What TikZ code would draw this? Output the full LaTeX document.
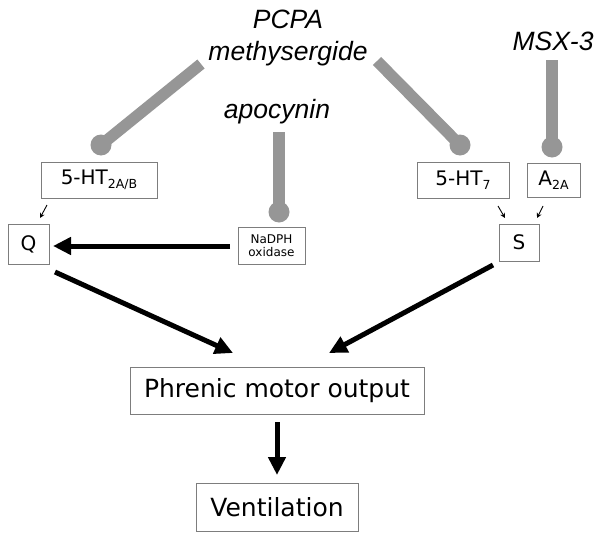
\documentclass[tikz,border=0pt]{standalone}
\usepackage{fontspec}
\setmainfont{DejaVu Sans}
\newfontfamily\drugfont{Liberation Sans}
\usetikzlibrary{arrows.meta,calc}
\definecolor{inhgray}{RGB}{150,150,150}
\definecolor{boxgray}{RGB}{125,125,125}
\newcommand{\sbx}[1]{\raisebox{-0.2em}{\fontsize{12.5}{12.5}\selectfont #1}}
\begin{document}
\begin{tikzpicture}[x=1pt,y=-1pt,
  box/.style={draw=boxgray,line width=1pt,inner sep=0pt,align=center,text=black},
  drug/.style={font=\drugfont\itshape\fontsize{26.5}{28}\selectfont,anchor=base,inner sep=0pt},
  inh/.style={draw=inhgray,line width=11.5pt},
  inhdot/.style={fill=inhgray},
  bigarrow/.style={line width=5pt,-{Triangle[length=18pt,width=17pt]}},
  smallarrow/.style={line width=0.9pt,-{Stealth[length=5pt,width=5pt]}},
  mid/.style={font=\fontsize{20}{22}\selectfont}]
\fill[white] (0,0) rectangle (600,538);
\useasboundingbox (0,0) rectangle (600,538);

% drug names
\node[drug] (pcpa) at (288,28) {PCPA};
\node[drug] (methy) at (288,60) {methysergide};
\node[drug] (msx) at (553,50) {MSX-3};
\node[drug] (apo) at (277,118) {apocynin};

% boxes
\node[box,mid,minimum width=116pt,minimum height=36pt] (ht2) at (99,180) {5-HT\sbx{2A/B}};
\node[box,mid,minimum width=41pt,minimum height=40pt] (Q) at (28.5,244) {Q};
\node[box,minimum width=67pt,minimum height=37pt,font=\fontsize{12}{13.5}\selectfont] (nadph) at (271.5,245.5) {NaDPH\\oxidase};
\node[box,mid,minimum width=92pt,minimum height=36pt] (ht7) at (463,180) {5-HT\sbx{7}};
\node[box,mid,minimum width=53pt,minimum height=34pt] (a2a) at (553.5,180) {A\sbx{2A}};
\node[box,mid,minimum width=40pt,minimum height=37pt] (S) at (519,242.5) {S};
\node[box,minimum width=294pt,minimum height=47pt,font=\fontsize{25}{28}\selectfont] (phr) at (277,390.5) {Phrenic motor output};
\node[box,minimum width=162pt,minimum height=48pt,font=\fontsize{25}{28}\selectfont] (vent) at (277,507) {Ventilation};

% inhibitory connectors
\coordinate (l1s) at (201,64);  \coordinate (l1e) at (101,145);
\coordinate (l2s) at (377,61);  \coordinate (l2e) at (460,145);
\coordinate (l3s) at (552,60);  \coordinate (l3e) at (552,147);
\coordinate (l4s) at (279,132); \coordinate (l4e) at (279,212);
\foreach \a/\b in {l1s/l1e,l2s/l2e,l3s/l3e,l4s/l4e}{
  \draw[inh] (\a) -- (\b);
  \fill[inhdot] (\b) circle (10.5pt);
}

% small arrows
\coordinate (s1s) at (47,205); \coordinate (s1e) at (40,218);
\coordinate (s2s) at (498,206); \coordinate (s2e) at (505,218);
\coordinate (s3s) at (543,206); \coordinate (s3e) at (537,218);
\draw[smallarrow] (s1s) -- (s1e);
\draw[smallarrow] (s2s) -- (s2e);
\draw[smallarrow] (s3s) -- (s3e);

% big arrows
\coordinate (b1s) at (230,246); \coordinate (b1e) at (53,246);
\coordinate (b2s) at (55,272);  \coordinate (b2e) at (233,353);
\coordinate (b3s) at (493,265); \coordinate (b3e) at (329,353);
\coordinate (b4s) at (277,422); \coordinate (b4e) at (277,475);
\draw[bigarrow] (b1s) -- (b1e);
\draw[bigarrow] (b2s) -- (b2e);
\draw[bigarrow] (b3s) -- (b3e);
\draw[bigarrow] (b4s) -- (b4e);
\end{tikzpicture}
\end{document}
